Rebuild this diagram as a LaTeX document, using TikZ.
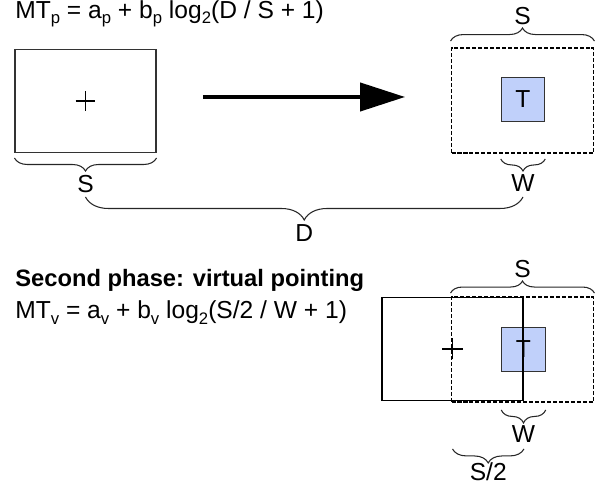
\documentclass[tikz,border=0pt]{standalone}
\usepackage{fontspec}
\setmainfont{Liberation Sans}
\usetikzlibrary{arrows.meta,decorations.pathreplacing}

\definecolor{tblue}{RGB}{192,208,250}
\newcommand\low[1]{\raisebox{-0.4ex}{\fontsize{9.5}{10}\selectfont #1}}

\tikzset{
  area/.style={draw=black!80, line width=0.6pt, minimum width=2.82cm, minimum height=2.06cm, inner sep=0pt},
  zone/.style={draw, line width=1.1pt, dash pattern=on 2.3pt off 1.1pt, minimum width=2.84cm, minimum height=2.1cm, inner sep=0pt},
  target/.style={draw=black!80, fill=tblue, line width=0.6pt, minimum size=0.87cm, inner sep=0pt},
  brcdown/.style={draw=black!85, line width=0.6pt, decorate, decoration={brace, mirror, amplitude=0.26cm}},
  brcup/.style={draw=black!85, line width=0.6pt, decorate, decoration={brace, amplitude=0.26cm}},
  lbl/.style={inner sep=1pt},
  formula/.style={anchor=base west, inner sep=0pt},
  push/.style={line width=2pt, -{Triangle[length=25.5pt, width=16pt]}}
}

\begin{document}
\begin{tikzpicture}[x=0.02cm, y=-0.02cm, font=\fontsize{14}{17}\selectfont]
  \useasboundingbox (0,0) rectangle (600,499);

  % first phase
  \node[formula] (mtp) at (15,18.5) {MT\low{p} = a\low{p} + b\low{p} log\low{2}(D / S + 1)};

  \node[area] (start) at (85.5,101) {};
  \draw[line width=0.7pt] ([xshift=-0.2cm]start.center) -- ([xshift=0.2cm]start.center)
    ([yshift=-0.2cm]start.center) -- ([yshift=0.2cm]start.center);

  \node[zone] (zone1) at (522.5,100.5) {};
  \node[target] (tgt1) at (523,99.5) {T};

  \coordinate (go) at (203,97);
  \coordinate (stop) at (405,97);
  \draw[push] (go) -- (stop);

  \draw[brcdown] ([yshift=-0.1cm]start.south west) -- ([yshift=-0.1cm]start.south east)
    node[lbl, midway, below=0.3cm] (s1) {S};
  \draw[brcup] ([yshift=0.12cm]zone1.north west) -- ([yshift=0.12cm]zone1.north east)
    node[lbl, midway, above=0.28cm] (s2) {S};
  \coordinate (b1) at ([yshift=-0.1cm]zone1.south);
  \draw[brcdown, decoration={amplitude=0.24cm}] (tgt1.west |- b1) -- (tgt1.east |- b1)
    node[lbl, midway, below=0.27cm] (w1) {W};
  \coordinate (b2) at ([yshift=-0.04cm]s1.south);
  \draw[brcdown, decoration={amplitude=0.46cm}] (b2) -- (w1 |- b2)
    node[lbl, midway, below=0.5cm] (d) {D};

  % second phase
  \node[formula, font=\fontsize{13.5}{16}\selectfont\bfseries] (phase) at (15,287) {Second phase: virtual pointing};
  \node[formula] (mtv) at (15,319) {MT\low{v} = a\low{v} + b\low{v} log\low{2}(S/2 / W + 1)};

  \node[zone] (zone2) at (522.5,349.5) {};
  \node[target] (tgt2) at (523.5,349.5) {T};
  \node[area, draw=black, line width=1.1pt] (ptr) at (452.5,349) {};
  \draw[line width=0.9pt] ([xshift=-0.21cm]ptr.center) -- ([xshift=0.21cm]ptr.center)
    ([yshift=-0.21cm]ptr.center) -- ([yshift=0.21cm]ptr.center);

  \draw[brcup, decoration={amplitude=0.24cm}] ([yshift=0.06cm]zone2.north west) -- ([yshift=0.06cm]zone2.north east)
    node[lbl, midway, above=0.27cm] (s3) {S};
  \coordinate (b3) at ([yshift=-0.14cm]zone2.south);
  \draw[brcdown, decoration={amplitude=0.26cm}] (tgt2.west |- b3) -- (tgt2.east |- b3)
    node[lbl, midway, below=0.27cm] (w2) {W};
  \coordinate (b4) at ([yshift=-0.08cm]w2.south);
  \draw[brcdown, decoration={amplitude=0.28cm}] (ptr.center |- b4) -- (ptr.east |- b4)
    node[lbl, midway, below=0.22cm] (half) {S/2};
\end{tikzpicture}
\end{document}
